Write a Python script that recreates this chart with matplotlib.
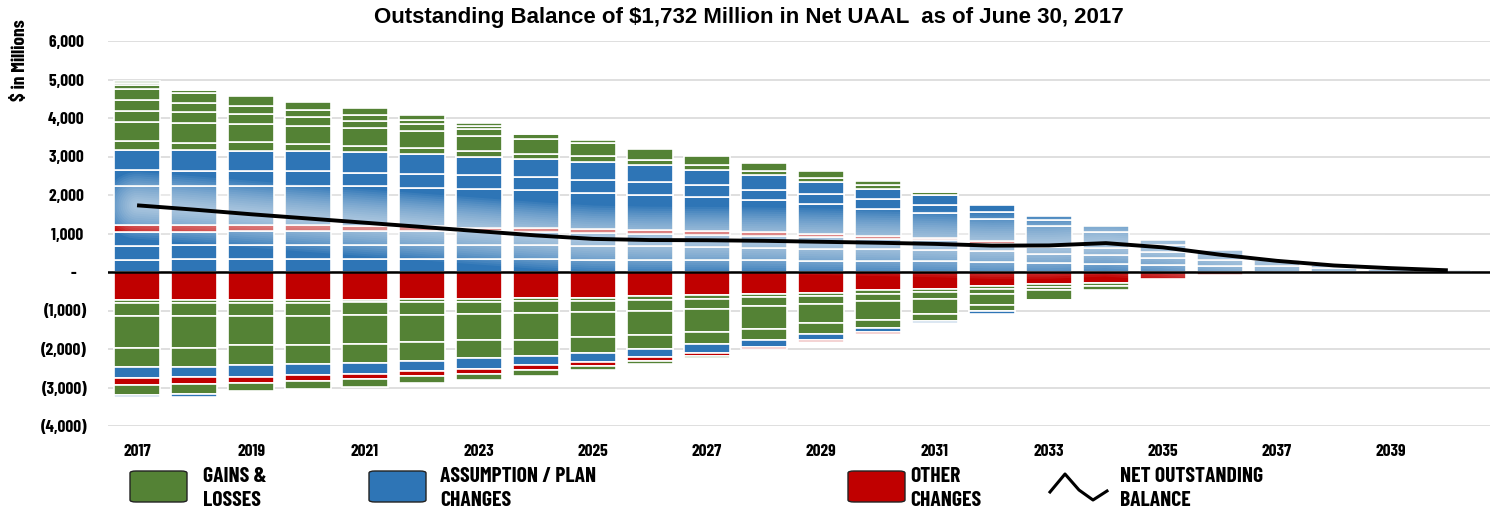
import matplotlib
matplotlib.use("Agg")
import matplotlib.pyplot as plt
import numpy as np
from matplotlib.patches import FancyBboxPatch
from matplotlib.lines import Line2D

# years on the x axis
years = list(range(2017, 2041))
tick_years = years[::2]

# positive layers, bottom to top ($ millions)
pos_blue_1 = [322, 330, 330, 330, 330, 330, 330, 330, 320, 315, 310, 300, 295, 286, 277, 260, 234, 217, 190, 147, 147, 104, 90, 40]
pos_blue_2 = [364, 360, 363, 363, 363, 363, 363, 363, 360, 355, 345, 330, 315, 303, 286, 277, 242, 216, 182, 174, 174, 86, 14, 0]
pos_blue_3 = [364, 360, 375, 372, 364, 364, 364, 355, 343, 327, 316, 305, 291, 278, 260, 199, 180, 199, 148, 260, 0, 0, 0, 0]
pos_red_1 = [171, 165, 152, 148, 130, 130, 95, 104, 94, 94, 94, 96, 78, 69, 69, 69, 0, 0, 0, 0, 0, 0, 0, 0]
pos_blue_4 = [1015, 1020, 1015, 1021, 1038, 995, 1013, 969, 944, 918, 883, 830, 796, 709, 641, 563, 530, 398, 173, 0, 0, 0, 0, 0]
pos_blue_5 = [415, 400, 388, 381, 355, 372, 363, 347, 337, 329, 304, 260, 242, 243, 199, 190, 156, 156, 147, 0, 0, 0, 0, 0]
pos_blue_6 = [530, 545, 529, 529, 537, 503, 459, 476, 459, 433, 406, 408, 331, 278, 260, 174, 113, 0, 0, 0, 0, 0, 0, 0]
pos_green_1 = [220, 171, 224, 180, 163, 164, 163, 130, 148, 148, 111, 93, 94, 86, 86, 0, 0, 0, 0, 0, 0, 0, 0, 0]
pos_green_2 = [490, 529, 477, 459, 450, 433, 390, 374, 346, 286, 252, 218, 192, 112, 18, 0, 0, 0, 0, 0, 0, 0, 0, 0]
pos_green_3 = [300, 276, 242, 234, 199, 191, 173, 130, 69, 0, 0, 0, 0, 0, 0, 0, 0, 0, 0, 0, 0, 0, 0, 0]
pos_green_4 = [270, 244, 216, 190, 160, 104, 78, 25, 0, 0, 0, 0, 0, 0, 0, 0, 0, 0, 0, 0, 0, 0, 0, 0]
pos_green_5 = [300, 260, 260, 200, 161, 131, 79, 0, 0, 0, 0, 0, 0, 0, 0, 0, 0, 0, 0, 0, 0, 0, 0, 0]
pos_green_6 = [100, 60, 0, 0, 0, 0, 0, 0, 0, 0, 0, 0, 0, 0, 0, 0, 0, 0, 0, 0, 0, 0, 0, 0]
pos_green_7 = [50, 40, 0, 0, 0, 0, 0, 0, 0, 0, 0, 0, 0, 0, 0, 0, 0, 0, 0, 0, 0, 0, 0, 0]
pos_green_8 = [43, 20, 0, 0, 0, 0, 0, 0, 0, 0, 0, 0, 0, 0, 0, 0, 0, 0, 0, 0, 0, 0, 0, 0]

# negative layers, from zero downwards ($ millions)
neg_red_1 = [718, 718, 718, 718, 718, 692, 692, 666, 666, 632, 606, 563, 537, 476, 450, 372, 320, 277, 173, 87, 0, 0, 0, 0]
neg_green_1 = [87, 87, 87, 87, 70, 96, 96, 86, 86, 86, 86, 77, 86, 86, 70, 78, 69, 95, 0, 0, 0, 0, 0, 0]
neg_green_2 = [346, 346, 346, 346, 320, 320, 294, 312, 286, 295, 260, 252, 199, 200, 180, 130, 87, 104, 0, 0, 0, 0, 0, 0]
neg_green_3 = [823, 823, 736, 736, 762, 710, 675, 693, 650, 632, 606, 580, 503, 476, 400, 276, 242, 0, 0, 0, 0, 0, 0, 0]
neg_green_4 = [492, 484, 537, 511, 492, 489, 489, 437, 420, 364, 321, 298, 294, 204, 164, 148, 18, 0, 0, 0, 0, 0, 0, 0]
neg_blue_1 = [295, 276, 302, 272, 286, 263, 277, 230, 238, 211, 229, 170, 147, 112, 66, 78, 0, 0, 0, 0, 0, 0, 0, 0]
neg_red_2 = [170, 170, 150, 170, 140, 140, 135, 120, 105, 100, 70, 55, 50, 45, 0, 0, 0, 0, 0, 0, 0, 0, 0, 0]
neg_green_5 = [254, 264, 223, 207, 199, 181, 155, 148, 102, 78, 64, 0, 0, 0, 0, 0, 0, 0, 0, 0, 0, 0, 0, 0]
neg_blue_2 = [62, 79, 0, 0, 0, 0, 0, 0, 0, 0, 0, 0, 0, 0, 0, 0, 0, 0, 0, 0, 0, 0, 0, 0]

# net outstanding balance line
net_balance = [1732, 1620, 1500, 1390, 1280, 1170, 1060, 950, 860, 830, 825, 810, 785, 760, 730, 685, 690, 750, 640, 450, 290, 170, 100, 44]

GREEN = "#548235"
BLUE = "#2E75B6"
RED = "#C00000"

pos_layers = [(pos_blue_1, BLUE), (pos_blue_2, BLUE), (pos_blue_3, BLUE), (pos_red_1, RED),
              (pos_blue_4, BLUE), (pos_blue_5, BLUE), (pos_blue_6, BLUE),
              (pos_green_1, GREEN), (pos_green_2, GREEN), (pos_green_3, GREEN), (pos_green_4, GREEN),
              (pos_green_5, GREEN), (pos_green_6, GREEN), (pos_green_7, GREEN), (pos_green_8, GREEN)]
neg_layers = [(neg_red_1, RED), (neg_green_1, GREEN), (neg_green_2, GREEN), (neg_green_3, GREEN),
              (neg_green_4, GREEN), (neg_blue_1, BLUE), (neg_red_2, RED), (neg_green_5, GREEN),
              (neg_blue_2, BLUE)]

W, H = 1497, 515
fig = plt.figure(figsize=(W / 100, H / 100), dpi=100)
ax = fig.add_axes([108 / W, 1 - 426 / H, (1490 - 108) / W, (426 - 41) / H])

# narrow bold face like the original's Arial Narrow
narrow = ["Barlow Condensed", "Roboto Condensed", "Liberation Sans"]
x = np.array(years)

# stacked bars
cum = np.zeros(len(years))
for vals, col in pos_layers:
    v = np.array(vals, dtype=float)
    m = v > 0
    ax.bar(x[m], v[m], bottom=cum[m], width=0.8, color=col, edgecolor="white", linewidth=1.2, zorder=2)
    cum += v
cum = np.zeros(len(years))
for vals, col in neg_layers:
    v = np.array(vals, dtype=float)
    m = v > 0
    ax.bar(x[m], -v[m], bottom=-cum[m], width=0.8, color=col, edgecolor="white", linewidth=1.2, zorder=2)
    cum += v

# soft white glow around the net line
for lw in np.linspace(48, 6, 15):
    ax.plot(x, net_balance, color="white", lw=lw, alpha=0.06, solid_capstyle="round",
            solid_joinstyle="round", zorder=3)
ax.axhline(0, color="black", lw=1.8, zorder=4)
ax.plot(x, net_balance, color="black", lw=2.8, solid_capstyle="butt", zorder=5)

ax.set_xlim(2016.49, 2040.74)
ax.set_ylim(-4000, 6000)
ax.set_yticks(range(-4000, 6001, 1000))
ylabels = []
for t in range(-4000, 6001, 1000):
    if t < 0:
        ylabels.append("({:,})".format(-t))
    elif t == 0:
        ylabels.append("-   ")
    else:
        ylabels.append("{:,} ".format(t))
ax.set_yticklabels(ylabels, family=narrow, fontweight="bold", fontsize=12.5)
ax.set_xticks(tick_years)
ax.set_xticklabels([str(y) for y in tick_years], family=narrow, fontweight="bold", fontsize=12.5)
ax.tick_params(axis="both", length=0)
ax.tick_params(axis="y", pad=15)
ax.tick_params(axis="x", pad=13)
ax.set_axisbelow(True)
ax.yaxis.grid(True, color="#D9D9D9", lw=1.2, zorder=0)
for s in ax.spines.values():
    s.set_visible(False)

fig.text(749 / W, 1 - 18 / H, "Outstanding Balance of $1,732 Million in Net UAAL  as of June 30, 2017",
         ha="center", va="center", fontsize=16, fontweight="bold", family=["Liberation Sans", "DejaVu Sans"])
fig.text(21 / W, 1 - 60 / H, "$ in Millions", rotation=90, ha="center", va="center",
         fontsize=14, fontweight="bold", family=narrow)

# legend drawn by hand below the axes
def px(xp, yp):
    return xp / W, 1 - yp / H

legend_boxes = [(130, GREEN, "GAINS &", "LOSSES", 203),
                (369, BLUE, "ASSUMPTION / PLAN", "CHANGES", 440),
                (848, RED, "OTHER", "CHANGES", 910)]
for bx, col, l1, l2, tx in legend_boxes:
    x0, y0 = px(bx, 502)
    box = FancyBboxPatch((x0, y0), 57 / W, 31 / H, boxstyle="round,pad=0,rounding_size=0.004",
                         transform=fig.transFigure, facecolor=col, edgecolor="#222222", lw=1.0)
    fig.add_artist(box)
    fig.text(*px(tx, 476), l1, ha="left", va="center", fontsize=15.5, fontweight="bold", family=narrow)
    fig.text(*px(tx, 500), l2, ha="left", va="center", fontsize=15.5, fontweight="bold", family=narrow)

zig_x = [1050, 1065, 1079, 1093, 1107]
zig_y = [492, 474, 490, 500, 491]
fig.add_artist(Line2D([a / W for a in zig_x], [1 - b / H for b in zig_y], color="black", lw=2.2,
                      transform=fig.transFigure))
fig.text(*px(1120, 476), "NET OUTSTANDING", ha="left", va="center", fontsize=15.5, fontweight="bold", family=narrow)
fig.text(*px(1120, 500), "BALANCE", ha="left", va="center", fontsize=15.5, fontweight="bold", family=narrow)

fig.savefig("out.png", dpi=100)
